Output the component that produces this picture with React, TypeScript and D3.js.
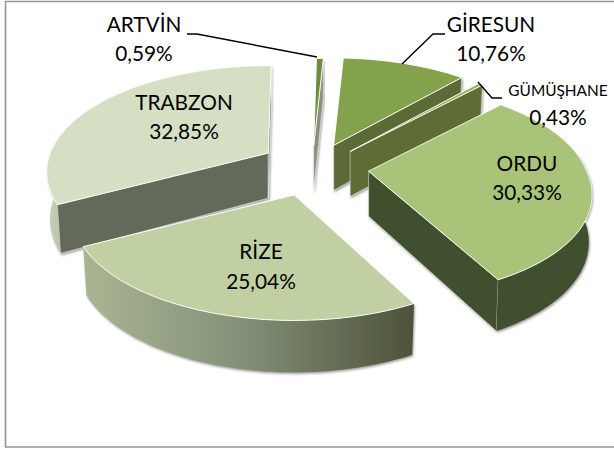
import React from "react";
import * as d3 from "d3";

const categories = ["GİRESUN", "GÜMÜŞHANE", "ORDU", "RİZE", "TRABZON", "ARTVİN"];
const shares = [10.76, 0.43, 30.33, 25.04, 32.85, 0.59];
const shareLabels = ["10,76%", "0,43%", "30,33%", "25,04%", "32,85%", "0,59%"];

const topColors = ["#84a14c", "#9ab560", "#a9c378", "#c0d0a3", "#d5dfc4", "#6f8c3e"];
const faceColors = ["#5b6b34", "#5e6c36", "#414f2f", "#5a6048", "#646a5a", "#8a9080"];
const wallColors = ["#5b6b34", "#5e6c36", "#414f2f", "url(#rizeWall)", "url(#trabzonWall)", "#8a9080"];

// layout of the 3D projection
const W = 614, H = 453;
const cx = 317, cy = 168;
const rx = 218, ry = 103, persp = 0.179, depth = 46, explode = 0.225;
const rotation = (3 * Math.PI) / 180;
const nudge: [number, number][] = [[-2, -2], [0, 0], [3, 0], [-8, 4], [-7, -3], [-5, 0]];
const nearSpread = [0, 0, 52, 0, 0, 0];

const labelPos: [number, number, number, number, number][] = [
  [491, 27, 491, 56, 20.8],
  [558, 92, 558, 120, 15.4],
  [527, 166, 527, 195, 20.8],
  [261, 254, 261, 284, 20.8],
  [184, 105, 184, 134, 20.8],
  [144, 27, 144, 56, 20.8],
];
const leaders: Record<number, [number, number][]> = {
  0: [[445, 34], [433, 34], [402, 64]],
  1: [[478, 82], [492, 98], [502, 98]],
  5: [[187, 34], [197, 34], [317, 57]],
};

const toPath = d3.line<[number, number]>();

function project(a: [number, number], t: number, level: number, spread: number): [number, number] {
  const u = Math.sin(t), v = Math.cos(t);
  const s = 1 / (1 + persp * v);
  const x = a[0] + rx * u * s * (level ? 0.985 : 1) + spread * (Math.max(s, 1) - 1);
  const y = a[1] - ry * v * s + level * depth * (1 - 0.13 * v);
  return [x, y];
}
function samples(a: number, b: number): number[] {
  const n = Math.max(2, Math.ceil((b - a) / 0.03));
  return d3.range(n + 1).map((i) => a + ((b - a) * i) / n);
}

export default function App() {
  const arcs = d3.pie<number>().sort(null).startAngle(rotation).endAngle(rotation + 2 * Math.PI)(shares);
  const slices = arcs.map((arc, i) => {
    const m = (arc.startAngle + arc.endAngle) / 2;
    const ev = explode * Math.cos(m);
    const sp = nearSpread[i];
    const apex: [number, number] = [
      cx + rx * explode * Math.sin(m) + nudge[i][0],
      cy - (ry * ev) / (1 + persp * ev) + nudge[i][1],
    ];
    const apexLow: [number, number] = [apex[0], apex[1] + depth * 0.98];
    const top: [number, number][] = [apex, ...samples(arc.startAngle, arc.endAngle).map((t) => project(apex, t, 0, sp))];
    const face = (t: number): [number, number][] => [apex, project(apex, t, 0, sp), project(apex, t, 1, sp), apexLow];
    const faces: [number, number][][] = [];
    if (Math.sin(arc.startAngle) < -1e-6) faces.push(face(arc.startAngle));
    if (Math.sin(arc.endAngle) > 1e-6) faces.push(face(arc.endAngle));
    const a0 = Math.max(arc.startAngle, 1.4), a1 = Math.min(arc.endAngle, 4.9);
    let wall: [number, number][] | null = null;
    if (a1 > a0) {
      const ts = samples(a0, a1);
      wall = [...ts.map((t) => project(apex, t, 0, sp)), ...ts.slice().reverse().map((t) => project(apex, t, 1, sp))];
    }
    return { i, top, faces, wall };
  });
  const order = [5, 4, 0, 1, 2, 3];
  return (
    <svg width={W} height={H} viewBox={`0 0 ${W} ${H}`} style={{ position: "fixed", left: 0, top: 0, background: "#fff" }}>
      <defs>
        <linearGradient id="rizeWall" gradientUnits="userSpaceOnUse" x1={85} x2={417} y1={0} y2={0}>
          <stop offset="0" stopColor="#a9b491" />
          <stop offset="0.45" stopColor="#86937a" />
          <stop offset="1" stopColor="#4b5138" />
        </linearGradient>
        <linearGradient id="trabzonWall" gradientUnits="userSpaceOnUse" x1={50} x2={68} y1={0} y2={0}>
          <stop offset="0" stopColor="#c6d0b6" />
          <stop offset="1" stopColor="#b0bca0" />
        </linearGradient>
        <filter id="sh" x="-10%" y="-10%" width="120%" height="120%">
          <feDropShadow dx="1" dy="1.5" stdDeviation="0.8" floodColor="#555" floodOpacity="0.6" />
        </filter>
      </defs>
      <path d="M5.5 1.5H620V447H5.5Z" fill="#fff" stroke="#969696" strokeWidth={1.6} />
      {order.map((k) => {
        const s = slices[k];
        return (
          <g key={k}>
            <g filter="url(#sh)">
              {s.faces.map((f, j) => (
                <path key={j} d={toPath(f) + "Z"} fill={faceColors[k]} stroke="#f4f4f0" strokeWidth={0.5} />
              ))}
              {s.wall && <path d={toPath(s.wall) + "Z"} fill={wallColors[k]} />}
            </g>
            <path d={toPath(s.top) + "Z"} fill={topColors[k]} stroke="#fff" strokeWidth={0.9} />
          </g>
        );
      })}
      {Object.entries(leaders).map(([k, pts]) => (
        <path key={k} d={toPath(pts) ?? ""} fill="none" stroke="#000" strokeWidth={1.4} />
      ))}
      {categories.map((c, i) => {
        const [x1, y1, x2, y2, fs] = labelPos[i];
        return (
          <g key={c} fontFamily="Lato, Carlito, sans-serif" fill="#000" textAnchor="middle">
            <text x={x1} y={y1} dominantBaseline="middle" fontSize={fs}>{c}</text>
            <text x={x2} y={y2} dominantBaseline="middle" fontSize={20.8}>{shareLabels[i]}</text>
          </g>
        );
      })}
    </svg>
  );
}
